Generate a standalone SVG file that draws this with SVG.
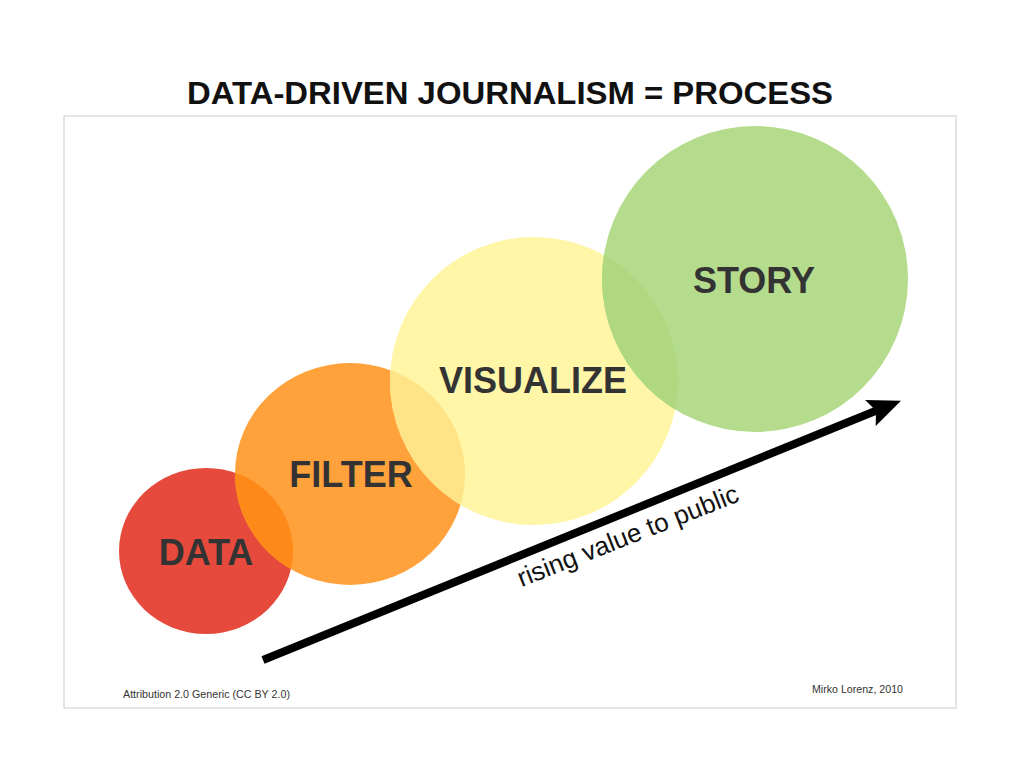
<svg xmlns="http://www.w3.org/2000/svg" width="1024" height="768" viewBox="0 0 1024 768">
  <style>
    .title { font-family: "Liberation Sans", Arial, sans-serif; font-weight: bold; font-size: 32px; fill: #111111; }
    .label { font-family: "Liberation Sans", Arial, sans-serif; font-weight: bold; font-size: 36px; fill: #333333; text-anchor: middle; }
    .note { font-family: "Liberation Sans", Arial, sans-serif; font-size: 11px; fill: #333333; }
    .caption { font-family: "Liberation Sans", Arial, sans-serif; font-size: 26px; fill: #111111; text-anchor: middle; }
    .frame { fill: #ffffff; stroke: #dddddd; stroke-width: 1.5; }
    .arrow { stroke: #000000; stroke-width: 8; fill: none; stroke-linecap: butt; }
  </style>
  <defs>
    <clipPath id="clipData"><ellipse cx="206" cy="551" rx="87" ry="83"/></clipPath>
    <clipPath id="clipFilter"><ellipse cx="350" cy="474" rx="115" ry="111"/></clipPath>
    <clipPath id="clipVisualize"><circle cx="534" cy="381" r="144"/></clipPath>
    <marker id="head" markerUnits="userSpaceOnUse" markerWidth="34" markerHeight="28" viewBox="0 0 34 28" refX="6" refY="14" orient="auto">
      <path d="M0,0 L33,14 L0,28 L6,14 Z" fill="#000000"/>
    </marker>
  </defs>

  <rect width="1024" height="768" fill="#ffffff"/>
  <text class="title" x="510" y="104" text-anchor="middle" textLength="646" lengthAdjust="spacingAndGlyphs">DATA-DRIVEN JOURNALISM = PROCESS</text>
  <rect class="frame" x="64" y="116" width="892" height="592"/>

  <g id="node-data">
    <ellipse cx="206" cy="551" rx="87" ry="83" fill="#E64A3C"/>
  </g>
  <g id="node-filter">
    <ellipse cx="350" cy="474" rx="115" ry="111" fill="#FFA23B"/>
  </g>
  <g id="node-visualize">
    <circle cx="534" cy="381" r="144" fill="#FFF6A8"/>
  </g>
  <g id="node-story">
    <circle cx="755" cy="279" r="153" fill="#B4DC8C"/>
  </g>

  <g id="overlaps">
    <ellipse cx="350" cy="474" rx="115" ry="111" fill="#FD8A18" clip-path="url(#clipData)"/>
    <circle cx="534" cy="381" r="144" fill="#FEE486" clip-path="url(#clipFilter)"/>
    <circle cx="755" cy="279" r="153" fill="#AFD880" clip-path="url(#clipVisualize)"/>
  </g>

  <g id="labels">
    <text class="label" x="206" y="565">DATA</text>
    <text class="label" x="351" y="487">FILTER</text>
    <text class="label" x="533" y="393">VISUALIZE</text>
    <text class="label" x="754" y="293">STORY</text>
  </g>

  <g id="connectors">
    <line class="arrow" x1="263" y1="660" x2="876" y2="410.8" marker-end="url(#head)"/>
    <text class="caption" transform="translate(631,544) rotate(-21.5)">rising value to public</text>
  </g>

  <text class="note" x="123" y="698" textLength="167" lengthAdjust="spacingAndGlyphs">Attribution 2.0 Generic (CC BY 2.0)</text>
  <text class="note" x="812" y="693" textLength="91" lengthAdjust="spacingAndGlyphs">Mirko Lorenz, 2010</text>
</svg>
